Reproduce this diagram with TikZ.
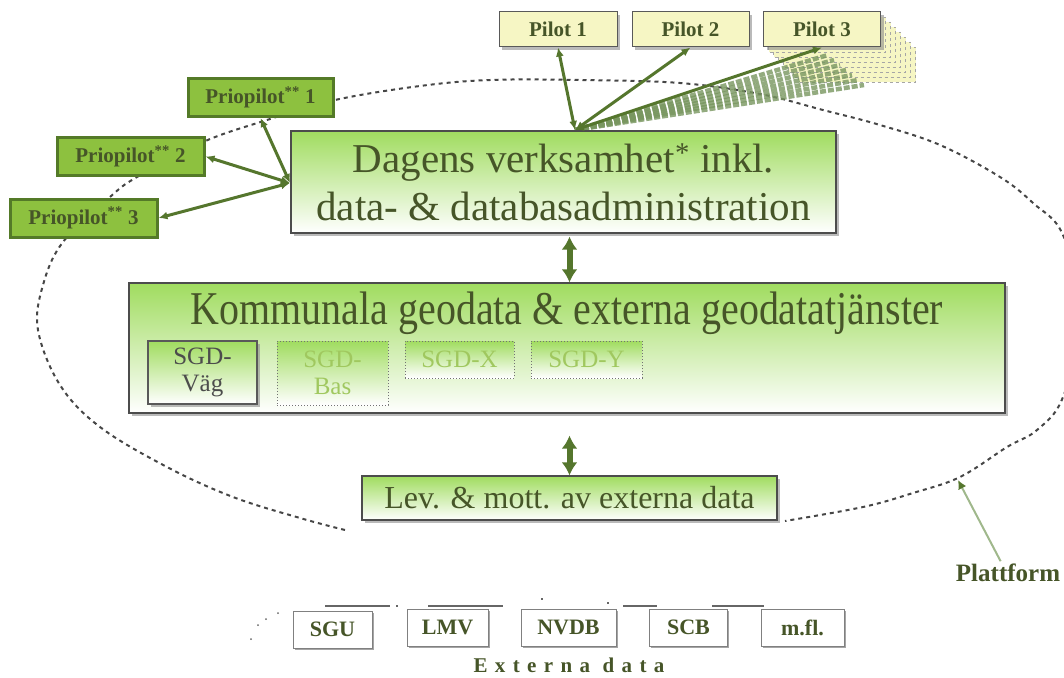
\documentclass[tikz,border=0pt]{standalone}
\usepackage{fontspec}
\usepackage{graphicx}
\setmainfont{Liberation Serif}
\usetikzlibrary{arrows.meta,shadows,calc}
\definecolor{gtop}{RGB}{160,220,95}
\definecolor{pgreen}{RGB}{141,193,63}
\definecolor{pborder}{RGB}{84,122,40}
\definecolor{arrc}{RGB}{85,118,45}
\definecolor{pyel}{RGB}{246,246,196}
\definecolor{txt}{RGB}{70,85,40}
\definecolor{ltxt}{RGB}{160,200,95}
\definecolor{ell}{RGB}{70,70,70}
\definecolor{fan}{RGB}{120,150,95}
\definecolor{platc}{RGB}{160,184,140}
\newcommand\fdag{\fontsize{41}{50}\selectfont}
\newcommand\fkom{\fontsize{47}{50}\selectfont}
\newcommand\fsgd{\fontsize{25}{27}\selectfont}
\newcommand\flev{\fontsize{32}{34}\selectfont}
\newcommand\fpil{\fontsize{21}{23}\selectfont\bfseries}
\newcommand\fext{\fontsize{22}{24}\selectfont\bfseries}
\tikzset{
  shad/.style={drop shadow={shadow xshift=3pt,shadow yshift=-3pt,fill=black!45,opacity=0.6}},
  gbox/.style={draw=black!70,line width=1.2pt,top color=gtop,bottom color=white,inner sep=0pt,shad},
  sgdsolid/.style={draw=black!65,line width=1.2pt,top color=gtop,bottom color=white,inner sep=0pt,shad,text=black!70,font=\fsgd,align=center},
  sgddot/.style={draw=black!55,dotted,line width=1pt,top color=gtop,bottom color=white,inner sep=0pt,text=ltxt,font=\fsgd,align=center},
  pilotbox/.style={draw=black!65,line width=1pt,fill=pyel,inner sep=0pt,minimum width=117pt,minimum height=35pt,text=txt,font=\fpil,shad},
  stackbox/.style={draw=black!35,dashed,line width=0.8pt,fill=pyel},
  priobox/.style={draw=pborder,line width=3pt,fill=pgreen,inner sep=0pt,minimum height=38pt,text=txt,font=\fpil},
  extbox/.style={draw=black!50,line width=1pt,fill=white,inner sep=0pt,minimum height=37pt,text=txt,font=\fext,drop shadow={shadow xshift=1.5pt,shadow yshift=-2pt,fill=black!70}},
  parr/.style={{Latex[length=9pt,width=8pt]}-{Latex[length=9pt,width=8pt]},arrc,line width=3pt},
  dbl/.style={{Latex[length=13pt,width=16pt]}-{Latex[length=13pt,width=16pt]},arrc,line width=6pt},
  fanline/.style={fan,line width=4.5pt,dash pattern=on 6pt off 2pt,opacity=0.8},
  ellline/.style={ell,line width=2pt,dash pattern=on 4pt off 4pt},
  deco/.style={black!60,line width=1.2pt}
}
\begin{document}
\begin{tikzpicture}[x=1pt,y=-1pt]
\useasboundingbox (0,0) rectangle (1064,677);
% platform ellipse
\draw[ellline] plot[smooth,tension=0.6] coordinates {(345,530) (300,518) (233,497) (167,467) (100,427) (60,385) (38,330) (43,285) (63,242) (110,197) (137,177) (203,142) (267,120) (335,100) (420,86) (490,80) (580,80) (680,83) (760,94) (823,110) (880,125) (940,145) (1000,177) (1033,203) (1063,235) (1082,315) (1063,397) (1037,430) (1007,447) (960,477) (913,493) (863,507) (785,521)};
% Pilot 3 stack
\foreach \k in {7,6,...,1}{
  \draw[stackbox] (763.5+5*\k,12+5*\k) rectangle (880.5+5*\k,47+5*\k);
}
\coordinate (hub) at (575,130);
\coordinate (hub2) at (290,183);
\foreach \k in {7,6,...,1}{
  \coordinate (f\k) at (822+6*\k,50+5*\k);
  \draw[fanline] (hub) -- (f\k);
}
% pilots
\node[pilotbox,minimum width=118pt] (p1) at (558,29.5) {Pilot 1};
\node[pilotbox] (p2) at (690.5,29.5) {Pilot 2};
\node[pilotbox] (p3) at (822,29.5) {Pilot 3};
% priopilots
\node[priobox,minimum width=145pt] (pp1) at (260.5,97.5) {Priopilot\textsuperscript{**} 1};
\node[priobox,minimum width=147pt] (pp2) at (130.5,156.5) {Priopilot\textsuperscript{**} 2};
\node[priobox,minimum width=147pt] (pp3) at (83.5,218) {Priopilot\textsuperscript{**} 3};
% main boxes
\node[gbox,minimum width=545pt,minimum height=102pt,align=center,font=\fdag,text=txt] (dag) at (563.5,182) {Dagens verksamhet\textsuperscript{*} inkl.\\[-2pt]data- \& databasadministration};
\node[gbox,minimum width=876pt,minimum height=130pt] (kom) at (567,348) {};
\node[font=\fkom,text=txt,inner sep=0pt] (komt) at (567,313) {\scalebox{0.85}[1]{Kommunala geodata \& externa geodatatjänster}};
\node[sgdsolid,minimum width=109pt,minimum height=63pt] (sv) at (202.5,372.5) {SGD-\\Väg};
\node[sgddot,minimum width=111pt,minimum height=64pt] (sb) at (332.5,373) {SGD-\\Bas};
\node[sgddot,minimum width=109pt,minimum height=37pt] (sx) at (459.5,359.5) {SGD-X};
\node[sgddot,minimum width=111pt,minimum height=37pt] (sy) at (586.5,359.5) {SGD-Y};
\node[gbox,minimum width=415pt,minimum height=44pt,font=\flev,text=txt] (lev) at (569.5,498) {Lev. \& mott. av externa data};
% arrows
\draw[parr] (hub) -- (p1.south);
\draw[parr] (hub) -- (p2.south);
\draw[parr] (hub) -- (p3.south);
\draw[parr] (hub2) -- (pp1.south);
\draw[parr] (hub2) -- (pp2.east);
\draw[parr] (hub2) -- (pp3.east);
\draw[dbl,shorten <=3pt] (dag.south -| lev.north) -- (kom.north -| lev.north);
\draw[dbl,shorten <=22pt] (kom.south -| lev.north) -- (lev.north);
% plattform
\node[font=\fontsize{25}{27}\selectfont\bfseries,text=txt,inner sep=0pt] (plat) at (1008,573) {Plattform};
\coordinate (pe) at (958,480);
\draw[platc,line width=2pt,-{Latex[length=9pt,width=9pt,fill=arrc,color=arrc]},shorten <=3pt] (plat.north) ++(-6,0) -- (pe);
% external data
\draw[deco] (325,606) -- (390,606);
\draw[deco] (396,606) -- (398,606);
\draw[deco] (428,606) -- (503,606);
\draw[deco] (541,599) -- (543,599);
\draw[deco] (607,603) -- (609,603);
\draw[deco] (623,606) -- (657,606);
\draw[deco] (712,606) -- (764,606);
\foreach \p in {(278,613),(266,619),(258,625),(251,639)} \fill[black!60] \p circle (1pt);
\node[extbox,minimum width=79pt] (e1) at (332.5,629.5) {SGU};
\node[extbox,minimum width=81pt] (e2) at (447.5,627.5) {LMV};
\node[extbox,minimum width=95pt] (e3) at (568.5,627.5) {NVDB};
\node[extbox,minimum width=78pt] (e4) at (688.5,627.5) {SCB};
\node[extbox,minimum width=83pt] (e5) at (802.5,627.5) {m.fl.};
\node[font=\fontsize{21}{23}\selectfont\bfseries\addfontfeatures{LetterSpace=35},text=txt,inner sep=0pt] (ext) at (569,665) {Externa data};
\end{tikzpicture}
\end{document}
